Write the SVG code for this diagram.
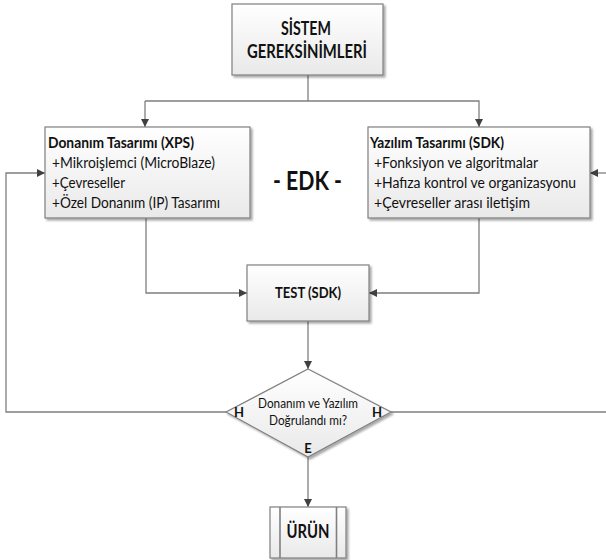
<svg xmlns="http://www.w3.org/2000/svg" width="606" height="560" viewBox="0 0 606 560">
<defs>
<linearGradient id="g" x1="0" y1="0" x2="0" y2="1">
<stop offset="0" stop-color="#ffffff"/>
<stop offset="1" stop-color="#e9e9e9"/>
</linearGradient>
<filter id="sh" x="-10%" y="-10%" width="130%" height="130%">
<feGaussianBlur in="SourceAlpha" stdDeviation="1.2"/>
<feOffset dx="2" dy="2" result="b"/>
<feComponentTransfer><feFuncA type="linear" slope="0.35"/></feComponentTransfer>
<feMerge><feMergeNode/><feMergeNode in="SourceGraphic"/></feMerge>
</filter>
<marker id="ah" viewBox="0 0 10 10" refX="10" refY="5" markerWidth="8" markerHeight="8" markerUnits="userSpaceOnUse" orient="auto">
<path d="M0,0 L10,5 L0,10 z" fill="#404040"/>
</marker>
</defs>
<style>
.box{fill:url(#g);stroke:#7f7f7f;stroke-width:1.2;filter:url(#sh)}
.ln{fill:none;stroke:#7f7f7f;stroke-width:1.3}
.arr{marker-end:url(#ah)}
text{font-family:Lato,"Open Sans","Liberation Sans",sans-serif;fill:#111111}
.b{font-weight:bold}
.t{font-size:15.5px}
.s{font-size:13px}
</style>
<g id="connectors">
<polyline class="ln" points="308,75 308,101"/>
<polyline class="ln arr" points="145,101 145,127"/>
<polyline class="ln arr" points="145,101 479,101 479,127"/>
<polyline class="ln arr" points="146,218 146,293 247,293"/>
<polyline class="ln arr" points="479,218 479,293 369,293"/>
<polyline class="ln arr" points="308,321 308,369"/>
<polyline class="ln arr" points="226,412 6,412 6,173 45,173"/>
<polyline class="ln" points="391,412 606,412"/>
<polyline class="ln arr" points="606,173 590,173"/>
<polyline class="ln arr" points="308,457 308,507"/>
</g>
<g id="sistem">
<rect class="box" x="232" y="4" width="151" height="71"/>
<text class="b" x="306" y="35" font-size="19" text-anchor="middle" textLength="50" lengthAdjust="spacingAndGlyphs">SİSTEM</text>
<text class="b" x="307" y="58" font-size="19" text-anchor="middle" textLength="120" lengthAdjust="spacingAndGlyphs">GEREKSİNİMLERİ</text>
</g>
<g id="donanim">
<rect class="box" x="45" y="127" width="205" height="91"/>
<text class="b t" x="48" y="148" textLength="146" lengthAdjust="spacingAndGlyphs">Donanım Tasarımı (XPS)</text>
<text class="t" x="52" y="168" textLength="163" lengthAdjust="spacingAndGlyphs">+Mikroişlemci (MicroBlaze)</text>
<text class="t" x="52" y="188" textLength="73" lengthAdjust="spacingAndGlyphs">+Çevreseller</text>
<text class="t" x="52" y="208" textLength="168" lengthAdjust="spacingAndGlyphs">+Özel Donanım (IP) Tasarımı</text>
</g>
<g id="yazilim">
<rect class="box" x="368" y="127" width="222" height="91"/>
<text class="b t" x="370" y="148" textLength="134" lengthAdjust="spacingAndGlyphs">Yazılım Tasarımı (SDK)</text>
<text class="t" x="374" y="168" textLength="164" lengthAdjust="spacingAndGlyphs">+Fonksiyon ve algoritmalar</text>
<text class="t" x="374" y="188" textLength="202" lengthAdjust="spacingAndGlyphs">+Hafıza kontrol ve organizasyonu</text>
<text class="t" x="374" y="208" textLength="156" lengthAdjust="spacingAndGlyphs">+Çevreseller arası iletişim</text>
</g>
<g id="edk">
<text class="b" x="273" y="190" font-size="26" textLength="69" lengthAdjust="spacingAndGlyphs">- EDK -</text>
</g>
<g id="test">
<rect class="box" x="247" y="265" width="122" height="56"/>
<text class="b" x="308" y="298" font-size="16" text-anchor="middle" textLength="66" lengthAdjust="spacingAndGlyphs">TEST (SDK)</text>
</g>
<g id="karar">
<polygon class="box" points="308,369 391,412 308,457 226,412"/>
<text class="s" x="308" y="408" text-anchor="middle" textLength="100" lengthAdjust="spacingAndGlyphs">Donanım ve Yazılım</text>
<text class="s" x="308" y="425" text-anchor="middle" textLength="78" lengthAdjust="spacingAndGlyphs">Doğrulandı mı?</text>
<text class="b s" x="239" y="417" text-anchor="middle">H</text>
<text class="b s" x="377" y="417" text-anchor="middle">H</text>
<text class="b s" x="308" y="453" text-anchor="middle">E</text>
</g>
<g id="urun">
<rect class="box" x="270" y="507" width="76" height="51"/>
<line x1="280" y1="507" x2="280" y2="558" stroke="#7f7f7f" stroke-width="1.6"/>
<line x1="336.5" y1="507" x2="336.5" y2="558" stroke="#7f7f7f" stroke-width="1.6"/>
<text class="b" x="308" y="538" font-size="18" text-anchor="middle" textLength="43" lengthAdjust="spacingAndGlyphs">ÜRÜN</text>
</g>
</svg>
